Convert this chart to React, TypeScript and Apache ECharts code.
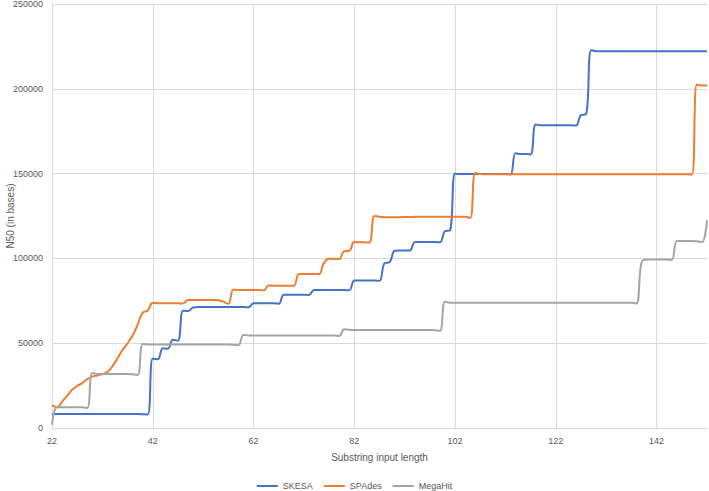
import React, { useEffect, useRef } from "react";
import * as echarts from "echarts";

const categories: string[] = Array.from({ length: 131 }, (_, i) => String(22 + i));

const skesa: number[] = [
  8200, 8200, 8200, 8200, 8200, 8200, 8200, 8200, 8200, 8200,
  8200, 8200, 8200, 8200, 8200, 8200, 8200, 8200, 8100, 8000,
  41000, 40500, 47000, 46800, 52000, 51500, 69200, 69000, 71000, 71300,
  71300, 71300, 71300, 71300, 71300, 71300, 71300, 71300, 71300, 71200,
  73500, 73500, 73500, 73500, 73500, 73300, 78600, 78600, 78600, 78600,
  78600, 78400, 81300, 81300, 81300, 81300, 81300, 81300, 81300, 81200,
  87000, 87000, 87000, 87000, 87000, 86800, 97200, 97800, 104500, 104700,
  104700, 104600, 109600, 109700, 109700, 109700, 109700, 109500, 116000, 116500,
  150000, 149700, 149700, 149700, 149700, 149700, 149700, 149700, 149700, 149700,
  149700, 149500, 162000, 161500, 161500, 161300, 179000, 178500, 178500, 178500,
  178500, 178500, 178500, 178500, 178300, 184500, 185000, 222800, 222200, 222200,
  222200, 222200, 222200, 222200, 222200, 222200, 222200, 222200, 222200, 222200,
  222200, 222200, 222200, 222200, 222200, 222200, 222200, 222200, 222200, 222200,
  222200,
];

const spades: number[] = [
  13300, 12200, 15500, 19000, 22500, 24800, 26500, 28800, 30300, 31000,
  31800, 33000, 36500, 41000, 46000, 50000, 54500, 61000, 68000, 69300,
  73800, 73500, 73500, 73500, 73500, 73500, 73400, 75500, 75500, 75500,
  75500, 75500, 75500, 75300, 74500, 73200, 81700, 81300, 81300, 81300,
  81300, 81300, 81200, 84000, 83900, 83900, 83900, 83900, 83800, 90800,
  90800, 90800, 90800, 90700, 97500, 99800, 99700, 99600, 104300, 104500,
  109800, 109500, 109500, 109400, 125000, 124500, 124300, 124300, 124300, 124300,
  124400, 124400, 124500, 124500, 124500, 124500, 124500, 124500, 124500, 124500,
  124500, 124500, 124500, 123800, 150300, 149700, 149600, 149600, 149600, 149600,
  149600, 149600, 149600, 149600, 149600, 149600, 149600, 149600, 149600, 149600,
  149600, 149600, 149600, 149600, 149600, 149600, 149600, 149600, 149600, 149600,
  149600, 149600, 149600, 149600, 149600, 149600, 149600, 149600, 149600, 149600,
  149600, 149600, 149600, 149600, 149600, 149600, 149600, 149400, 202500, 202000,
  202000,
];

const megahit: number[] = [
  2000, 12300, 12200, 12200, 12200, 12200, 12200, 11800, 32500, 31900,
  31800, 31800, 31800, 31800, 31800, 31800, 31700, 31300, 49600, 49200,
  49200, 49200, 49200, 49200, 49200, 49200, 49200, 49200, 49200, 49200,
  49200, 49200, 49200, 49200, 49200, 49200, 49100, 48800, 54900, 54600,
  54600, 54600, 54600, 54600, 54600, 54600, 54600, 54600, 54600, 54600,
  54600, 54600, 54600, 54600, 54600, 54600, 54500, 54300, 58200, 57900,
  57800, 57800, 57800, 57800, 57800, 57800, 57800, 57800, 57800, 57800,
  57800, 57800, 57800, 57800, 57800, 57800, 57700, 57300, 74500, 73900,
  73900, 73900, 73900, 73900, 73900, 73900, 73900, 73900, 73900, 73900,
  73900, 73900, 73900, 73900, 73900, 73900, 73900, 73900, 73900, 73900,
  73900, 73900, 73900, 73900, 73900, 73900, 73900, 73900, 73900, 73900,
  73900, 73900, 73900, 73900, 73900, 73900, 73400, 97500, 99400, 99400,
  99400, 99400, 99400, 99100, 110300, 110300, 110300, 110300, 110100, 109600,
  122500,
];

const seriesNames = ["SKESA", "SPAdes", "MegaHit"];
const colors = ["#4472C4", "#ED7D31", "#A5A5A5"];
const yTitle = "N50 (in bases)";
const xTitle = "Substring input length";

const FONT = "Liberation Sans, Arial, sans-serif";
const TEXT = "#595959";
const GRID = "#d9d9d9";

export default function App() {
  const ref = useRef<HTMLDivElement>(null);
  useEffect(() => {
    if (!ref.current) return;
    const chart = echarts.init(ref.current, null, { renderer: "svg" });
    const data = [skesa, spades, megahit];
    chart.setOption({
      animation: false,
      color: colors,
      textStyle: { fontFamily: FONT },
      grid: { left: 52, right: 2, top: 4, bottom: 63, containLabel: false, outerBoundsMode: "none" },
      graphic: [
        {
          type: "text",
          x: 10,
          y: 216,
          rotation: Math.PI / 2,
          style: {
            text: yTitle,
            fill: TEXT,
            fontSize: 10,
            fontFamily: FONT,
            align: "center",
            verticalAlign: "middle",
          },
        },
      ],
      legend: {
        data: seriesNames,
        left: "center",
        top: 481,
        padding: [0, 5],
        icon: "rect",
        itemWidth: 21,
        itemHeight: 2,
        itemGap: 11,
        textStyle: { color: TEXT, fontSize: 9, lineHeight: 10, fontFamily: FONT },
      },
      xAxis: {
        type: "category",
        data: categories,
        boundaryGap: false,
        name: xTitle,
        nameLocation: "middle",
        nameGap: 24,
        nameTextStyle: { color: TEXT, fontSize: 10, fontFamily: FONT },
        axisLine: { show: true, lineStyle: { color: GRID, width: 1 } },
        axisTick: { show: false },
        axisLabel: { interval: 19, color: TEXT, fontSize: 9, margin: 8, fontFamily: FONT },
        splitLine: { show: true, interval: 19, lineStyle: { color: GRID, width: 1 } },
      },
      yAxis: {
        type: "value",
        min: 0,
        max: 250000,
        interval: 50000,
        axisLine: { show: true, lineStyle: { color: GRID, width: 1 } },
        axisTick: { show: false },
        axisLabel: {
          color: TEXT,
          fontSize: 9,
          margin: 9,
          fontFamily: FONT,
          formatter: (v: number) => String(v),
        },
        splitLine: { show: true, lineStyle: { color: GRID, width: 1 } },
      },
      series: seriesNames.map((name, i) => ({
        name,
        type: "line",
        data: data[i],
        smooth: 0.4,
        showSymbol: false,
        symbol: "none",
        lineStyle: { width: 2, color: colors[i] },
        itemStyle: { color: colors[i] },
      })),
    });
    return () => chart.dispose();
  }, []);
  return (
    <div
      ref={ref}
      style={{ position: "fixed", left: 0, top: 0, width: 709, height: 491, background: "#fff" }}
    />
  );
}
